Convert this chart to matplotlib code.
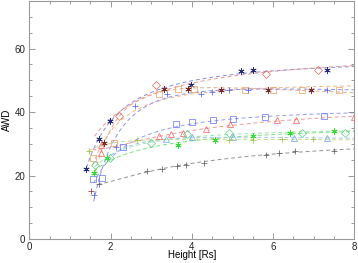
import numpy as np
import matplotlib
matplotlib.use("Agg")
import matplotlib.pyplot as plt
from matplotlib.ticker import MultipleLocator

# ---- data ----
navy_x = [1.39, 1.70, 1.97, 3.98, 5.21, 5.51, 7.32]
navy_y = [21.9, 31.4, 37.2, 48.4, 52.9, 53.4, 53.4]

reddia_x = [2.21, 3.12, 5.83, 7.11]
reddia_y = [38.7, 48.4, 52.1, 53.4]

brown_x = [1.84, 3.30, 3.90, 4.71, 5.86, 6.93]
brown_y = [30.1, 47.2, 47.2, 47.1, 47.1, 47.1]

orange_x = [1.56, 2.09, 3.20, 3.65, 4.05, 5.31, 6.00, 6.70, 7.63]
orange_y = [25.4, 30.1, 45.8, 47.2, 47.2, 47.1, 47.1, 47.1, 47.1]

blueplus_x = [1.60, 2.13, 2.60, 3.38, 4.22, 4.50, 4.90, 5.39, 7.32]
blueplus_y = [13.8, 29.0, 41.9, 45.8, 45.6, 46.3, 47.1, 47.1, 47.1]

bluesq_x = [1.56, 1.78, 2.31, 3.60, 4.00, 4.51, 5.00, 5.80, 7.26]
bluesq_y = [18.8, 19.3, 29.0, 36.2, 36.9, 37.6, 37.9, 38.3, 38.6]

redtri_x = [1.75, 1.77, 3.20, 3.49, 3.79, 4.34, 4.94, 6.10, 6.57, 8.00]
redtri_y = [27.2, 29.5, 32.3, 33.0, 33.5, 34.8, 36.2, 37.4, 37.5, 38.5]

green_x = [1.59, 1.90, 3.65, 4.57, 5.50, 6.42, 7.50]
green_y = [20.8, 25.4, 29.6, 31.3, 32.4, 33.5, 34.1]

ltgreen_x = [1.61, 1.98, 2.99, 3.87, 4.90, 6.70, 7.77]
ltgreen_y = [23.3, 25.4, 30.1, 33.0, 33.5, 33.5, 33.5]

ltblue_x = [3.36, 4.00, 5.00, 6.52, 7.32]
ltblue_y = [31.4, 32.0, 32.0, 31.9, 31.9]

olive_x = [1.46, 2.65, 4.91, 5.51, 6.21, 6.99]
olive_y = [27.8, 31.1, 31.3, 31.3, 31.4, 31.4]

gray_x = [1.70, 2.90, 3.26, 3.63, 3.85, 4.30, 5.83, 6.15, 6.54, 7.50]
gray_y = [17.2, 21.4, 22.2, 23.0, 23.3, 24.1, 26.4, 27.1, 27.8, 27.8]

extra_x = [1.52]
extra_y = [15.0]

series = [
    # x, y, marker, marker colour, curve colour, curve start
    (navy_x, navy_y, (6, 2, 0), '#2a2a7a', '#8a8ae0', 1.40),
    (reddia_x, reddia_y, 'D', '#e06a58', '#e89a90', 1.60),
    (brown_x, brown_y, (6, 2, 0), '#7a2a2a', '#e8aa90', 1.62),
    (orange_x, orange_y, 's', '#e8a060', '#f0b888', 1.55),
    (blueplus_x, blueplus_y, '+', '#5a66e6', '#8c92ec', 1.58),
    (bluesq_x, bluesq_y, 's', '#6070ff', '#959cf0', 1.58),
    (redtri_x, redtri_y, '^', '#ff5a5a', '#f29a9a', 1.55),
    (green_x, green_y, (6, 2, 0), '#33dd33', '#77e677', 1.58),
    (ltgreen_x, ltgreen_y, 'D', '#5ccc88', '#9ce6b2', 1.60),
    (ltblue_x, ltblue_y, '^', '#6aa6e2', '#a6c8ee', 2.00),
    (olive_x, olive_y, '+', '#a2c040', '#c4da88', 1.45),
    (gray_x, gray_y, '+', '#606060', '#929292', 1.68),
]

plt.rcParams['font.family'] = ['Liberation Sans', 'DejaVu Sans']
fig = plt.figure(figsize=(3.58, 2.63), dpi=100)
ax = fig.add_axes([0.0824, 0.0913, 0.9076, 0.905])

for xs, ys, mk, mc, lc, x0 in series:
    xs = np.asarray(xs, float)
    ys = np.asarray(ys, float)
    deg = 2 if len(xs) >= 5 else 1
    coef = np.polyfit(1.0 / xs, ys, deg)
    xx = np.linspace(x0, 8.0, 200)
    ax.plot(xx, np.polyval(coef, 1.0 / xx), color=lc, lw=0.7,
            dashes=(4, 3), zorder=1)
    if mk == '+' or isinstance(mk, tuple):
        ax.plot(xs, ys, ls='none', marker=mk, ms=4.5, mew=0.55, color=mc,
                zorder=2)
    else:
        ax.plot(xs, ys, ls='none', marker=mk, ms=3.6 if mk == 'D' else 4.6,
                mew=0.5, mfc='none', mec=mc, zorder=2)

ax.plot(extra_x, extra_y, ls='none', marker='+', ms=4.5, mew=0.55,
        color='#8a3a3a', zorder=2)

ax.set_xlim(0, 8)
ax.set_ylim(0, 75)
ax.xaxis.set_major_locator(MultipleLocator(2))
ax.xaxis.set_minor_locator(MultipleLocator(0.5))
ax.yaxis.set_major_locator(MultipleLocator(20))
ax.yaxis.set_minor_locator(MultipleLocator(5))
ax.tick_params(which='both', direction='in', top=True, right=True,
               colors='#888888', labelcolor='#222222', labelsize=7,
               width=0.6)
ax.tick_params(axis='x', pad=2)
ax.tick_params(axis='y', pad=3)
ax.tick_params(which='major', length=4)
ax.tick_params(which='minor', length=2)
for s in ax.spines.values():
    s.set_color('#999999')
    s.set_linewidth(0.8)
ax.set_xlabel('Height [Rs]', fontsize=7, labelpad=-1)
ax.set_ylabel('AWD', fontsize=7, labelpad=2)

fig.savefig('out.png', dpi=100)
